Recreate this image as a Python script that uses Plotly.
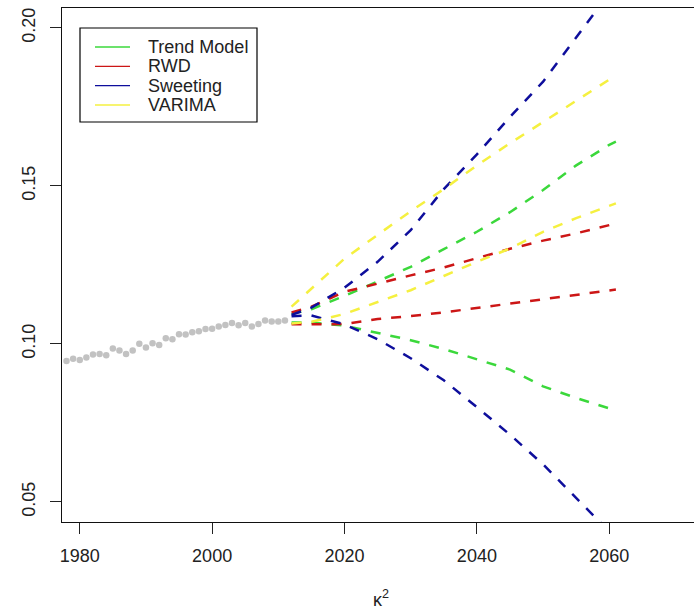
import plotly.graph_objects as go

# Observed kappa^2 series
obs_years = list(range(1978, 2012))
obs_kappa2 = [0.0946, 0.0953, 0.0949, 0.0957, 0.0967, 0.0968, 0.0964, 0.0986, 0.0979, 0.0968,
              0.0979, 0.1001, 0.0989, 0.1002, 0.0997, 0.1018, 0.1015, 0.1031, 0.1030, 0.1037,
              0.1040, 0.1047, 0.1048, 0.1055, 0.1060, 0.1066, 0.1059, 0.1066, 0.1055, 0.1063,
              0.1074, 0.1071, 0.1071, 0.1074]

# Forecast interval bounds per model
fc_years = [2012, 2015, 2020, 2025, 2030, 2035, 2040, 2045, 2050, 2055, 2060, 2061]
trend_upper = [0.1095, 0.1110, 0.1152, 0.1198, 0.1244, 0.1300, 0.1355, 0.1417, 0.1487, 0.1565, 0.1630, 0.1640]
trend_lower = [0.1068, 0.1068, 0.1058, 0.1035, 0.1012, 0.0984, 0.0952, 0.0919, 0.0866, 0.0829, 0.0796, 0.0790]
rwd_upper = [0.1100, 0.1118, 0.1165, 0.1192, 0.1217, 0.1242, 0.1272, 0.1301, 0.1327, 0.1350, 0.1376, 0.1382]
rwd_lower = [0.1062, 0.1062, 0.1063, 0.1079, 0.1088, 0.1100, 0.1114, 0.1128, 0.1143, 0.1156, 0.1169, 0.1172]
sweeting_upper = [0.1092, 0.1115, 0.1178, 0.1260, 0.1360, 0.1490, 0.1600, 0.1718, 0.1830, 0.1968, 0.2110, 0.2150]
sweeting_lower = [0.1088, 0.1090, 0.1062, 0.1015, 0.0955, 0.0885, 0.0800, 0.0713, 0.0619, 0.0513, 0.0410, 0.0385]
varima_upper = [0.1118, 0.1175, 0.1270, 0.1345, 0.1420, 0.1490, 0.1565, 0.1635, 0.1702, 0.1770, 0.1835, 0.1850]
varima_lower = [0.1065, 0.1070, 0.1095, 0.1132, 0.1170, 0.1215, 0.1260, 0.1302, 0.1355, 0.1398, 0.1438, 0.1445]

model_names = ["Trend Model", "RWD", "Sweeting", "VARIMA"]
model_colors = ["#3bd83b", "#cc1616", "#0e0e9c", "#f5f040"]
model_bounds = [(trend_upper, trend_lower), (rwd_upper, rwd_lower),
                (sweeting_upper, sweeting_lower), (varima_upper, varima_lower)]

x_ticks = [1980, 2000, 2020, 2040, 2060]
y_ticks = [0.05, 0.10, 0.15, 0.20]

W, H = 694, 608
ML, MR, MT, MB = 62, 0, 8, 86
PW, PH = W - ML - MR, H - MT - MB
FONT = "Liberation Sans, Arial, sans-serif"


def px(xp):
    return (xp - ML) / PW


def py(yp):
    return (H - MB - yp) / PH


fig = go.Figure()

fig.add_trace(go.Scatter(
    x=obs_years, y=obs_kappa2, mode="markers",
    marker=dict(color="#c2c2c2", size=6.5), showlegend=False, hoverinfo="skip"))

for name, color, (up, lo) in zip(model_names, model_colors, model_bounds):
    for series in (up, lo):
        fig.add_trace(go.Scatter(
            x=fc_years, y=series, mode="lines", name=name, showlegend=False,
            line=dict(color=color, width=2.5, dash="10px,10px")))

# Legend box with solid key lines
shapes = [dict(type="rect", xref="paper", yref="paper",
               x0=px(80), x1=px(257), y0=py(122), y1=py(28),
               line=dict(color="black", width=1.2), fillcolor="white", layer="above")]
annotations = []
row_y = [47, 66.3, 85.6, 105]
for name, color, yy in zip(model_names, model_colors, row_y):
    shapes.append(dict(type="line", xref="paper", yref="paper",
                       x0=px(95), x1=px(130), y0=py(yy), y1=py(yy),
                       line=dict(color=color, width=1.3), layer="above"))
    annotations.append(dict(text=name, xref="paper", yref="paper",
                            x=px(146), y=py(yy), xanchor="left", yanchor="middle",
                            showarrow=False, font=dict(family=FONT, size=18, color="#222")))

annotations.append(dict(text="κ<sup>2</sup>", xref="paper", yref="paper",
                        x=px(381), y=py(598), xanchor="center", yanchor="middle",
                        showarrow=False, font=dict(family=FONT, size=18, color="#222")))

fig.update_layout(
    width=W, height=H,
    margin=dict(l=ML, r=MR, t=MT, b=MB),
    paper_bgcolor="white", plot_bgcolor="white",
    font=dict(family=FONT, size=18, color="#222"),
    shapes=shapes, annotations=annotations, showlegend=False,
    xaxis=dict(range=[1977.32, 2072.8], tickvals=x_ticks, ticks="outside", ticklen=11,
               tickwidth=1, tickcolor="#222", showline=True, linecolor="#111", linewidth=1.3,
               mirror=True, showgrid=False, zeroline=False, ticklabelstandoff=6),
    yaxis=dict(range=[0.04367, 0.2063], tickvals=y_ticks, tickformat=".2f", ticks="outside",
               ticklen=11, tickwidth=1, tickcolor="#222", showline=True, linecolor="#111",
               linewidth=1.3, mirror=False, showgrid=False, zeroline=False, tickangle=-90,
               ticklabelstandoff=8),
)

fig.write_html("out.html")
